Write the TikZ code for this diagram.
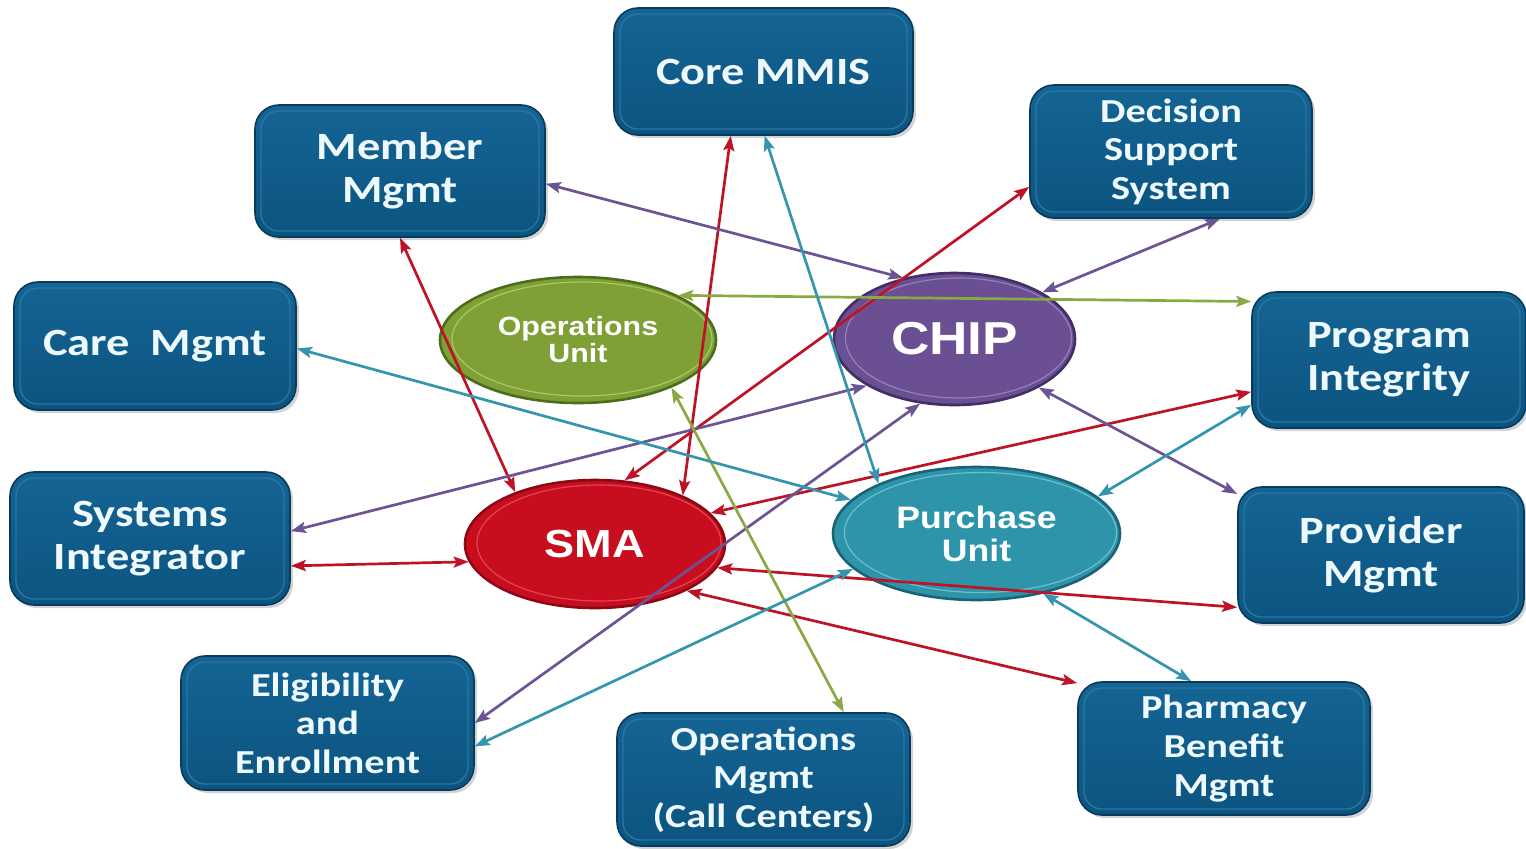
\documentclass[tikz,border=0pt]{standalone}
\usepackage{fontspec}
\usetikzlibrary{arrows.meta,shapes.geometric,shadows}
\newfontfamily\boxfont[FakeStretch=1.2]{Carlito}
\newfontfamily\ellfont[FakeStretch=1.15]{Liberation Sans}
\definecolor{boxtop}{RGB}{20,100,148}
\definecolor{boxbot}{RGB}{12,84,128}
\definecolor{boxedge}{RGB}{8,58,92}
\definecolor{boxrim}{RGB}{40,118,162}
\definecolor{boxtext}{RGB}{238,249,253}
\definecolor{redc}{RGB}{190,18,38}
\definecolor{purc}{RGB}{108,84,148}
\definecolor{grnc}{RGB}{138,168,68}
\definecolor{tealc}{RGB}{52,150,172}
\definecolor{smafill}{RGB}{200,14,30}
\definecolor{smaedge}{RGB}{140,8,20}
\definecolor{smarim}{RGB}{225,70,80}
\definecolor{chipfill}{RGB}{106,80,146}
\definecolor{chipedge}{RGB}{66,46,100}
\definecolor{chiprim}{RGB}{150,128,185}
\definecolor{oufill}{RGB}{126,160,54}
\definecolor{ouedge}{RGB}{78,108,30}
\definecolor{ourim}{RGB}{170,200,100}
\definecolor{pufill}{RGB}{46,148,170}
\definecolor{puedge}{RGB}{26,98,118}
\definecolor{purim}{RGB}{110,190,210}
\tikzset{
  box/.style={rectangle, rounded corners=12pt, draw=boxedge, line width=0.8pt,
    top color=boxtop, bottom color=boxbot, inner sep=0pt, align=center, text=boxtext,
    drop shadow={opacity=0.35,shadow xshift=1.5pt,shadow yshift=-1.5pt},
    path picture={\draw[boxrim,line width=0.7pt,rounded corners=9pt]
      ([xshift=3pt,yshift=-3pt]path picture bounding box.north west) rectangle
      ([xshift=-3pt,yshift=3pt]path picture bounding box.south east);}},
  bigtxt/.style={font=\boxfont\bfseries\fontsize{19.3}{21.5}\selectfont},
  smalltxt/.style={font=\boxfont\bfseries\fontsize{16.8}{19.3}\selectfont},
  ell/.style={ellipse, inner sep=0pt, line width=1.3pt, align=center, text=white},
  con/.style={{Stealth[length=7.5pt,width=5.5pt,inset=1.4pt]}-{Stealth[length=7.5pt,width=5.5pt,inset=1.4pt]}, line width=1.35pt},
  redcon/.style={con, draw=redc, fill=redc},
  purcon/.style={con, draw=purc, fill=purc},
  grncon/.style={con, draw=grnc, fill=grnc},
  tealcon/.style={con, draw=tealc, fill=tealc},
}
\begin{document}
\begin{tikzpicture}[x=0.5pt,y=-0.5pt]
\useasboundingbox (0,0) rectangle (1526,848);
% boxes
\node[box,bigtxt,minimum width=149.5pt,minimum height=63.5pt] (core) at (763.5,71.5) {Core MMIS};
\node[box,bigtxt,minimum width=145pt,minimum height=66pt] (mm) at (400,171) {\rule{0pt}{3pt}Member\\Mgmt};
\node[box,smalltxt,minimum width=141pt,minimum height=66.5pt] (dss) at (1171,151.5) {Decision\\Support\\System};
\node[box,bigtxt,minimum width=141pt,minimum height=64pt] (care) at (155,346) {Care\ \ Mgmt};
\node[box,bigtxt,minimum width=137pt,minimum height=68pt] (pi) at (1389,360) {Program\\Integrity};
\node[box,bigtxt,minimum width=140pt,minimum height=66.5pt] (si) at (150,538.5) {Systems\\Integrator};
\node[box,bigtxt,minimum width=143pt,minimum height=68pt] (prov) at (1381,555) {Provider\\Mgmt};
\node[box,smalltxt,minimum width=146.5pt,minimum height=67pt] (elig) at (327.5,723) {Eligibility\\and\\Enrollment};
\node[box,smalltxt,minimum width=146.5pt,minimum height=66.5pt] (opsm) at (763.5,779.5) {Operations\\Mgmt\\(Call Centers)};
\node[box,smalltxt,minimum width=146pt,minimum height=66.5pt] (pbm) at (1224,748.5) {Pharmacy\\Benefit\\Mgmt};
% ellipses
\node[ell,fill=oufill,draw=ouedge,minimum width=138pt,minimum height=63pt,
  font=\ellfont\bfseries\fontsize{13.2}{13.5}\selectfont] (ou) at (578,340) {Operations\\Unit};
\draw[ourim,line width=0.6pt] ([xshift=2pt,yshift=0.5pt]ou.center) ellipse [x radius=65pt, y radius=28.5pt];
\node[ell,fill=chipfill,draw=chipedge,minimum width=120.5pt,minimum height=66pt,
  font=\ellfont\bfseries\fontsize{23.1}{24}\selectfont] (chip) at (954.5,339) {CHIP};
\draw[chiprim,line width=0.6pt] ([xshift=2pt,yshift=0.5pt]chip.center) ellipse [x radius=56.5pt, y radius=30pt];
\node[ell,fill=smafill,draw=smaedge,minimum width=130pt,minimum height=64pt,
  font=\ellfont\bfseries\fontsize{19.6}{21}\selectfont] (sma) at (595,544) {SMA};
\draw[smarim,line width=0.6pt] ([xshift=2pt,yshift=0.5pt]sma.center) ellipse [x radius=61pt, y radius=29pt];
\node[ell,fill=pufill,draw=puedge,minimum width=143.5pt,minimum height=66.5pt,
  font=\ellfont\bfseries\fontsize{15.5}{16.5}\selectfont] (pu) at (976.5,533.5) {Purchase\\Unit};
\draw[purim,line width=0.6pt] ([xshift=2pt,yshift=0.5pt]pu.center) ellipse [x radius=68pt, y radius=30pt];
% red connectors (SMA)
\draw[redcon] (mm.south) -- (sma.147);
\draw[redcon] (core.-117) -- (sma.29);
\draw[redcon] (dss.-166) -- (sma.65);
\draw[redcon] (si.-11) -- (sma.188);
\draw[redcon] (pi.-167) -- (sma.15);
\draw[redcon] (sma.-11) -- (prov.-160);
\draw[redcon] (sma.-27) -- (pbm.156);
% purple connectors (CHIP)
\draw[purcon] (mm.-5) -- (chip.130);
\draw[purcon] (dss.-54) -- (chip.28);
\draw[purcon] (si.3) -- (chip.-152);
\draw[purcon] (chip.-30) -- (prov.157);
\draw[purcon] (chip.-118) -- (elig.0);
% green connectors (Operations Unit)
\draw[grncon] (ou.24) -- (pi.157);
\draw[grncon] (ou.-27) -- (opsm.40);
% teal connectors (Purchase Unit)
\draw[tealcon] (pu.153) -- (core.-89);
\draw[tealcon] (pu.165) -- (care.-1);
\draw[tealcon] (pu.17) -- (pi.-162);
\draw[tealcon] (pu.-164) -- (elig.-9);
\draw[tealcon] (pu.-42) -- (pbm.116);
\end{tikzpicture}
\end{document}
